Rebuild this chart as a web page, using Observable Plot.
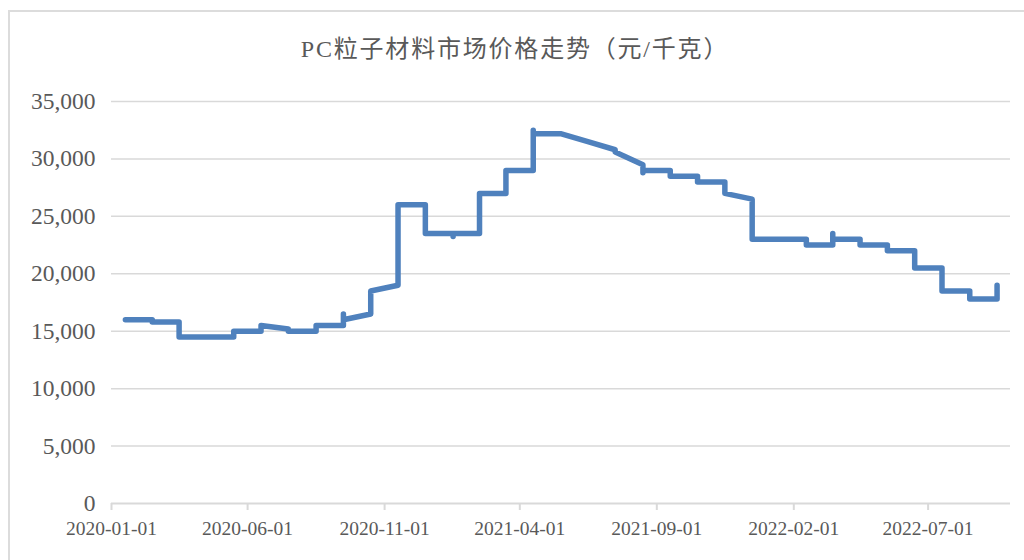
<!DOCTYPE html>
<html>
<head>
<meta charset="utf-8">
<script src="https://cdn.jsdelivr.net/npm/d3@7"></script>
<script src="https://cdn.jsdelivr.net/npm/@observablehq/plot@0.6"></script>
<style>
  html, body { margin: 0; padding: 0; background: #fff; }
  body { width: 1024px; height: 560px; position: relative; overflow: hidden; }
  #frame { position: absolute; left: 8px; top: 10px; width: 1200px; height: 700px; border: 2px solid #dcdcdc; box-sizing: border-box; }
  #title { position: absolute; left: 0; width: 1030px; top: 29px; text-align: center;
           font-family: "Liberation Serif", "Noto Sans CJK SC", serif; font-size: 24px; color: #595959; letter-spacing: 1.8px; }
  #chart { position: absolute; left: 0; top: 0; }
</style>
</head>
<body>
<div id="frame"></div>
<div id="title">PC粒子材料市场价格走势（元/千克）</div>
<div id="chart"></div>
<script>
// Months (each month's readings are plotted at the middle of that month)
const months = [
  "2020-01","2020-02","2020-03","2020-04","2020-05","2020-06","2020-07","2020-08","2020-09","2020-10","2020-11","2020-12",
  "2021-01","2021-02","2021-03","2021-04","2021-05","2021-06","2021-07","2021-08","2021-09","2021-10","2021-11","2021-12",
  "2022-01","2022-02","2022-03","2022-04","2022-05","2022-06","2022-07","2022-08","2022-09"
];
// Price readings within each month, in order (元/千克)
const monthPrices = [
  [16000],[16000,15800],[15800,14500],[14500],[14500,15000],[15000,15500],[15200,15000],[15000,15500],
  [15500,16500,16000],[16500,18500],[19000,26000],[26000,23500],
  [23500,23250,23500],[23500,27000],[27000,29000],[29000,32500,32200],[32200],[31500],[30800,30600],
  [29500,28800,29000],[29000,28500],[28500,28000],[28000,27000],[26500,23000],
  [23000],[23000,22500],[22500,23500,23000],[23000,22500],[22500,22000],[22000,20500],[20500,18500],
  [18500,17800],[17800,19000]
];
const xTickLabels = ["2020-01-01","2020-06-01","2020-11-01","2021-04-01","2021-09-01","2022-02-01","2022-07-01"];
const yTickValues = [0,5000,10000,15000,20000,25000,30000,35000];
const xDomain = ["2020-01-01","2022-10-01"];

const mid = (m) => {
  const s = new Date(m + "-01T00:00:00Z");
  const e = d3.utcMonth.offset(s, 1);
  return new Date((+s + +e) / 2);
};
const rows = [];
months.forEach((m, i) => monthPrices[i].forEach(v => rows.push({date: mid(m), price: v})));
const xTicks = xTickLabels.map(d => new Date(d + "T00:00:00Z"));

const fmtY = d3.format(",");
const chart = Plot.plot({
  width: 1024,
  height: 560,
  marginTop: 101,
  marginBottom: 57,
  marginLeft: 111,
  marginRight: 14,
  style: {background: "transparent", fontFamily: "Liberation Serif, serif", color: "#595959"},
  x: {type: "utc", domain: xDomain.map(d => new Date(d + "T00:00:00Z")), label: null},
  y: {domain: [0, 35000], label: null},
  marks: [
    Plot.ruleY(yTickValues.filter(d => d > 0), {stroke: "#d9d9d9", strokeWidth: 1.5}),
    Plot.ruleY([0], {stroke: "#d9d9d9", strokeWidth: 2}),
    Plot.axisY(yTickValues, {tickSize: 0, tickPadding: 16, tickFormat: fmtY, fontSize: 23.5, fill: "#595959", label: null}),
    Plot.axisX(xTicks, {tickSize: 7, stroke: "#d9d9d9", strokeWidth: 2, tickPadding: 11, fontSize: 19.5, fill: "#595959",
                        tickFormat: d3.utcFormat("%Y-%m-%d"), label: null}),
    Plot.line(rows, {x: "date", y: "price", stroke: "#4f81bd", strokeWidth: 5.5, strokeLinecap: "round", strokeLinejoin: "round"})
  ]
});
document.getElementById("chart").appendChild(chart);
</script>
</body>
</html>
